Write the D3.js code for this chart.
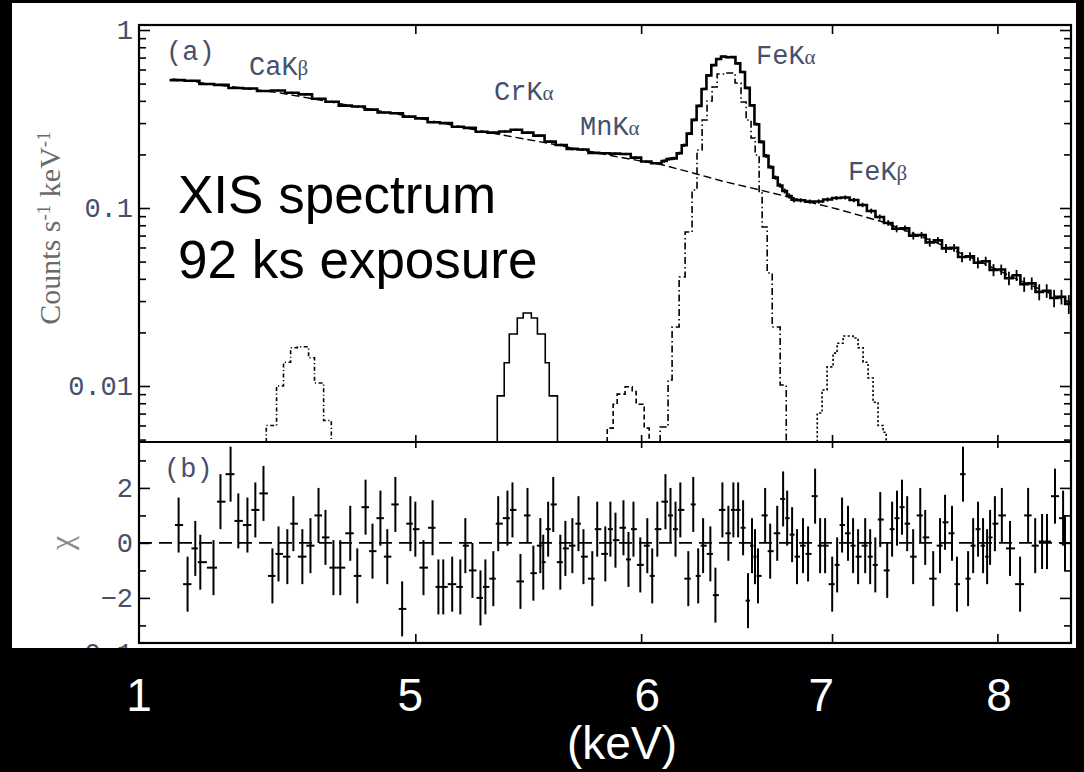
<!DOCTYPE html>
<html><head><meta charset="utf-8">
<script src="https://cdn.jsdelivr.net/npm/d3@7"></script>
<style>html,body{margin:0;padding:0;background:#000;}svg{display:block;}</style>
</head><body>
<svg id="chart" width="1084" height="772"></svg>
<script>
// ---------------- DATA ----------------
// observed XIS spectrum: bin edges (keV), counts s^-1 keV^-1 per bin, 1-sigma errors
const dataEdges = [4.10,4.15,4.20,4.25,4.30,4.35,4.40,4.45,4.50,4.55,
 4.60,4.65,4.70,4.75,4.80,4.85,4.90,4.95,5.00,5.05,
 5.10,5.15,5.20,5.25,5.30,5.35,5.40,5.45,5.50,5.55,
 5.60,5.65,5.70,5.75,5.80,5.85,5.90,5.95,6.00,6.05,
 6.10,6.125,6.15,6.175,6.20,6.225,6.25,6.275,6.30,6.325,
 6.35,6.375,6.40,6.425,6.45,6.475,6.50,6.525,6.55,6.575,
 6.60,6.625,6.65,6.675,6.70,6.725,6.75,6.775,6.80,6.85,
 6.90,6.95,7.00,7.05,7.10,7.15,7.20,7.25,7.30,7.35,
 7.40,7.45,7.50,7.55,7.60,7.65,7.70,7.75,7.80,7.85,
 7.90,7.95,8.00,8.05,8.10,8.15,8.20,8.25,8.30,8.35,
 8.40,8.45,8.50];
const dataFlux = [0.523,0.519,0.497,0.492,0.472,0.469,0.454,0.457,0.444,0.435,
 0.411,0.395,0.376,0.372,0.357,0.344,0.341,0.326,0.319,0.303,
 0.300,0.286,0.282,0.268,0.265,0.269,0.275,0.265,0.255,0.236,
 0.226,0.215,0.213,0.204,0.203,0.202,0.201,0.192,0.1825,0.1785,
 0.1837,0.1885,0.1900,0.2032,0.2253,0.2618,0.3126,0.3746,0.4662,0.5558,
 0.6353,0.6873,0.7098,0.7025,0.7044,0.6494,0.5808,0.4729,0.3771,0.2957,
 0.2354,0.1962,0.1697,0.1482,0.1338,0.1246,0.1168,0.1115,
 0.1105,0.1086,0.1088,0.1116,0.1138,0.1146,0.1109,0.1040,0.0962,0.0890,
 0.0824,0.0765,0.0768,0.0700,0.0704,0.0641,0.0658,0.0593,0.0597,0.0531,
 0.0535,0.0493,0.0502,0.0449,0.0451,0.0403,0.0419,0.0373,0.0377,0.0338,
 0.0343,0.0312,0.0317,0.0289];
const dataErr = [0.007,0.007,0.007,0.007,0.006,0.006,0.006,0.006,0.006,0.006,
 0.005,0.005,0.005,0.005,0.005,0.005,0.005,0.004,0.004,0.004,
 0.004,0.004,0.004,0.004,0.004,0.004,0.004,0.004,0.004,0.004,
 0.004,0.004,0.003,0.003,0.003,0.003,0.003,0.003,0.003,0.003,
 0.004,0.004,0.004,0.004,0.005,0.005,0.006,0.007,0.008,0.009,
 0.010,0.010,0.010,0.010,0.010,0.010,0.009,0.008,0.007,0.006,
 0.005,0.005,0.004,0.004,0.004,0.004,0.004,0.004,
 0.003,0.003,0.003,0.003,0.003,0.003,0.003,0.003,0.003,0.003,
 0.003,0.0035,0.003,0.0035,0.003,0.0035,0.003,0.0035,0.003,0.0035,
 0.003,0.0035,0.003,0.0035,0.003,0.0035,0.003,0.0035,0.003,0.0035,
 0.003,0.0035,0.003,0.0035];

// continuum model (dashed)
const contEnergy = [4.110,4.484,4.992,5.269,5.562,5.866,6.107,6.257,6.405,6.605,6.894,7.029,7.295,7.577,7.908,8.128,8.491];
const contFlux   = [0.5305,0.4428,0.3245,0.2708,0.2318,0.1959,0.1745,0.1573,0.1418,0.1262,0.1067,0.0987,0.0834,0.0661,0.0491,0.0399,0.0293];

// emission-line model components (bin edges in keV, values per bin)
const caKbEdges = [4.433,4.470,4.495,4.521,4.546,4.587,4.609,4.643,4.672];
const caKbFlux  = [0.0060,0.0100,0.0136,0.0164,0.0166,0.0144,0.0104,0.0064];
const crKaEdges = [5.342,5.372,5.394,5.429,5.455,5.491,5.518,5.553,5.571,5.608];
const crKaFlux  = [0.0088,0.0135,0.0196,0.0241,0.0257,0.0241,0.0196,0.0135,0.0088];
const mnKaEdges = [5.838,5.866,5.885,5.923,5.957,5.976,6.015,6.039];
const mnKaFlux  = [0.0058,0.0079,0.0090,0.0099,0.0093,0.0079,0.0058];
const feKaEdges = [6.093,6.132,6.152,6.187,6.217,6.252,6.277,6.303,6.328,6.354,6.380,6.426,6.473,6.504,6.531,6.557,6.579,6.600,6.616,6.643,6.670,6.713,6.746];
const feKaFlux  = [0.00588,0.0108,0.02145,0.0410,0.0733,0.1262,0.2118,0.3122,0.399,0.478,0.566,0.573,0.504,0.394,0.312,0.2474,0.1985,0.1214,0.0782,0.0431,0.02145,0.01013];
const feKbEdges = [6.917,6.944,6.972,7.006,7.029,7.063,7.120,7.149,7.178,7.207,7.236,7.265,7.295,7.313];
const feKbFlux  = [0.00705,0.0095,0.0128,0.0153,0.0174,0.0191,0.0186,0.0164,0.0136,0.0111,0.0081,0.0060,0.0055];

// residuals (chi)
const residEnergy = [4.130,4.160,4.186,4.203,4.248,4.272,4.307,4.334,4.366,4.394,
 4.423,4.455,4.477,4.509,4.531,4.564,4.594,4.624,4.650,4.680,
 4.706,4.744,4.771,4.803,4.830,4.861,4.888,4.920,4.947,4.980,
 5.000,5.033,5.070,5.094,5.114,5.151,5.185,5.206,5.236,5.270,
 5.291,5.325,5.346,5.386,5.408,5.443,5.474,5.500,5.531,5.544,
 5.566,5.589,5.621,5.644,5.676,5.704,5.727,5.768,5.791,5.829,
 5.853,5.877,5.915,5.939,5.963,5.996,6.030,6.054,6.079,6.119,
 6.144,6.169,6.193,6.233,6.258,6.283,6.308,6.345,6.371,6.407,
 6.438,6.464,6.489,6.515,6.541,6.562,6.578,6.594,6.632,6.659,
 6.697,6.729,6.751,6.778,6.805,6.838,6.866,6.905,6.933,6.961,
 7.001,7.029,7.057,7.091,7.120,7.149,7.190,7.219,7.249,7.278,
 7.319,7.348,7.377,7.407,7.438,7.474,7.517,7.547,7.596,7.638,
 7.669,7.712,7.743,7.781,7.813,7.845,7.876,7.908,7.934,7.953,
 7.984,8.029,8.082,8.148,8.201,8.248,8.294,8.327,8.381,8.436,8.449];
const residChi = [0.65,-1.5,-0.2,-0.7,-0.9,1.5,2.5,0.8,0.65,1.2,
 1.8,-1.2,-0.4,-0.5,0.7,-0.5,-0.1,1.0,0.2,-0.9,
 -0.9,0.35,-1.2,1.3,-0.3,0.9,-0.5,1.4,-2.4,0.7,
 0.5,-0.9,0.55,-1.6,-1.6,-1.5,-1.6,-0.1,-1.0,-2.0,
 -1.6,-1.3,0.7,0.9,1.2,-1.4,1.0,-1.1,-0.1,-0.7,
 0.5,1.4,-0.7,-0.2,-0.1,0.7,-0.5,-1.3,0.5,-0.4,
 0.5,0.1,0.55,-0.6,0.5,-0.8,-0.1,-1.2,0.5,1.5,
 1.0,0.5,1.2,-1.3,1.4,-1.2,-0.1,-0.4,-1.9,1.2,
 0.35,1.2,1.2,0.55,-2.1,-0.1,-0.5,-1.2,1.0,-0.3,
 0.35,1.6,0.9,0.3,-0.5,-0.1,-0.4,1.7,-0.1,-0.1,
 -1.5,-0.8,0.65,0.35,-0.1,-0.5,-0.1,-0.5,-0.8,0.85,
 -1.0,0.5,0.9,1.3,0.7,-0.5,1.0,0.2,-1.3,-0.1,
 0.75,0.35,-1.5,2.5,-1.3,-0.1,0.5,-0.1,-0.5,0.2,
 0.7,1.0,-0.2,-1.5,1.0,-0.1,0.05,0.05,1.7,0.9,0.0];
const residErr = 1.0;

// axes
const xTicks = [5,6,7,8];
const yMajorTicks = [0.01,0.1,1];
const yMajorLabels = ["0.01","0.1","1"];
const yMinorTicks = [0.005,0.006,0.007,0.008,0.009,0.02,0.03,0.04,0.05,0.06,0.07,0.08,0.09,0.2,0.3,0.4,0.5,0.6,0.7,0.8,0.9];
const chiMajorTicks = [-2,0,2];
const chiMinorTicks = [-3,-1,1,3];
// overlay energy labels (white, below plot)
const bottomLabels = ["1","5","6","7","8"];
const bottomLabelEnergy = [4.0,4.98,6.03,6.94,8.01];

(function(){
// ---------------- LAYOUT ----------------
const W=1084,H=772;
const L=139,R=1071,T=25,MID=442,B=643;
const svg=d3.select('#chart');
const mono='"Liberation Mono","DejaVu Sans Mono",monospace';
const serif='"Liberation Serif","DejaVu Serif",serif';
const sans='"Liberation Sans",Arial,sans-serif';
const labelColor='#46506c';

svg.append('rect').attr('width',W).attr('height',H).attr('fill','#000');
svg.append('rect').attr('x',12).attr('y',3).attr('width',1064).attr('height',645).attr('fill','#fff');

const defs=svg.append('defs');
defs.append('clipPath').attr('id','clipTop').append('rect').attr('x',L).attr('y',T).attr('width',R-L).attr('height',MID-T);
defs.append('clipPath').attr('id','clipBot').append('rect').attr('x',L).attr('y',MID).attr('width',R-L).attr('height',B-MID);
defs.append('clipPath').attr('id','clipPaper').append('rect').attr('x',12).attr('y',3).attr('width',1064).attr('height',645);

const x=d3.scaleLog().domain([4.0,8.49]).range([L,R]);
const y=d3.scaleLog().domain([0.004846,1.067]).range([MID,T]);
const yc=d3.scaleLinear().domain([-3.64,3.67]).range([B,MID]);
const yMin=y.domain()[0];

const line=d3.line().x(d=>x(d[0])).y(d=>y(d[1]));

// ---------------- TOP PANEL ----------------
const gTop=svg.append('g').attr('clip-path','url(#clipTop)');

function stepPoints(edges,vals){
  const pts=[[edges[0],yMin]];
  vals.forEach((v,i)=>{pts.push([edges[i],v]);pts.push([edges[i+1],v]);});
  pts.push([edges[edges.length-1],yMin]);
  return pts;
}
const comps=[
  {e:caKbEdges,v:caKbFlux,dash:'4,2.5,1.2,2.5'},
  {e:crKaEdges,v:crKaFlux,dash:null},
  {e:mnKaEdges,v:mnKaFlux,dash:'5,3'},
  {e:feKaEdges,v:feKaFlux,dash:'7,3,1.5,3'},
  {e:feKbEdges,v:feKbFlux,dash:'2.2,2.2'}
];
comps.forEach(c=>{
  gTop.append('path').attr('d',line(stepPoints(c.e,c.v)))
    .attr('fill','none').attr('stroke','#000').attr('stroke-width',1.6)
    .attr('stroke-dasharray',c.dash);
});

// continuum
gTop.append('path').attr('d',line(contEnergy.map((e,i)=>[e,contFlux[i]])))
  .attr('fill','none').attr('stroke','#000').attr('stroke-width',1.4).attr('stroke-dasharray','8,4');

// observed data (step histogram + error bars)
const dpts=[];
dataFlux.forEach((v,i)=>{dpts.push([dataEdges[i],v]);dpts.push([dataEdges[i+1],v]);});
gTop.append('path').attr('d',line(dpts)).attr('fill','none').attr('stroke','#000').attr('stroke-width',2.6);
const centre=i=>Math.sqrt(dataEdges[i]*dataEdges[i+1]);
gTop.selectAll('line.err').data(dataFlux).enter().append('line')
  .attr('x1',(d,i)=>x(centre(i))).attr('x2',(d,i)=>x(centre(i)))
  .attr('y1',(d,i)=>y(d-dataErr[i])).attr('y2',(d,i)=>y(d+dataErr[i]))
  .attr('stroke','#000').attr('stroke-width',1.8);

// ---------------- BOTTOM PANEL ----------------
const gBot=svg.append('g').attr('clip-path','url(#clipBot)');
gBot.append('line').attr('x1',L).attr('x2',R).attr('y1',yc(0)).attr('y2',yc(0))
  .attr('stroke','#000').attr('stroke-width',1.6).attr('stroke-dasharray','13,7');
const n=residEnergy.length;
residEnergy.forEach((e,i)=>{
  const lo=i>0?(residEnergy[i-1]+e)/2:e-0.012;
  const hi=i<n-1?(e+residEnergy[i+1])/2:e+0.012;
  gBot.append('line').attr('x1',x(lo)).attr('x2',x(hi)).attr('y1',yc(residChi[i])).attr('y2',yc(residChi[i]))
    .attr('stroke','#000').attr('stroke-width',2);
  gBot.append('line').attr('x1',x(e)).attr('x2',x(e)).attr('y1',yc(residChi[i]-residErr)).attr('y2',yc(residChi[i]+residErr))
    .attr('stroke','#000').attr('stroke-width',2);
});

// ---------------- AXES ----------------
function style(g){
  g.select('.domain').remove();
  g.selectAll('.tick line').attr('stroke','#000').attr('stroke-width',1.6);
  g.selectAll('.tick text').attr('font-family',mono).attr('font-size',27).attr('fill',labelColor);
  return g;
}
style(svg.append('g').attr('transform',`translate(${L},0)`)
  .call(d3.axisLeft(y).tickValues(yMajorTicks).tickSize(-11).tickPadding(6).tickFormat((d,i)=>yMajorLabels[i])));
style(svg.append('g').attr('transform',`translate(${L},0)`)
  .call(d3.axisLeft(y).tickValues(yMinorTicks).tickSize(-7).tickFormat('')));
style(svg.append('g').attr('transform',`translate(${R},0)`)
  .call(d3.axisRight(y).tickValues(yMajorTicks).tickSize(-11).tickFormat('')));
style(svg.append('g').attr('transform',`translate(${R},0)`)
  .call(d3.axisRight(y).tickValues(yMinorTicks).tickSize(-7).tickFormat('')));

style(svg.append('g').attr('transform',`translate(${L},0)`)
  .call(d3.axisLeft(yc).tickValues(chiMajorTicks).tickSize(-11).tickPadding(6).tickFormat(d3.format('d'))));
style(svg.append('g').attr('transform',`translate(${L},0)`)
  .call(d3.axisLeft(yc).tickValues(chiMinorTicks).tickSize(-7).tickFormat('')));
style(svg.append('g').attr('transform',`translate(${R},0)`)
  .call(d3.axisRight(yc).tickValues(chiMajorTicks).tickSize(-11).tickFormat('')));
style(svg.append('g').attr('transform',`translate(${R},0)`)
  .call(d3.axisRight(yc).tickValues(chiMinorTicks).tickSize(-7).tickFormat('')));

style(svg.append('g').attr('transform',`translate(0,${T})`).call(d3.axisTop(x).tickValues(xTicks).tickSize(-9).tickFormat('')));
style(svg.append('g').attr('transform',`translate(0,${MID})`).call(d3.axisTop(x).tickValues(xTicks).tickSize(7).tickFormat('')));
style(svg.append('g').attr('transform',`translate(0,${MID})`).call(d3.axisBottom(x).tickValues(xTicks).tickSize(6).tickFormat('')));
style(svg.append('g').attr('transform',`translate(0,${B})`).call(d3.axisBottom(x).tickValues(xTicks).tickSize(-9).tickFormat('')));

// frames
svg.append('rect').attr('x',L).attr('y',T).attr('width',R-L).attr('height',B-T)
  .attr('fill','none').attr('stroke','#000').attr('stroke-width',2.2);
svg.append('line').attr('x1',L).attr('x2',R).attr('y1',MID).attr('y2',MID).attr('stroke','#000').attr('stroke-width',2.2);

// partially visible label of the panel below
svg.append('text').attr('clip-path','url(#clipPaper)').attr('x',133).attr('y',662).attr('text-anchor','end')
  .attr('font-family',mono).attr('font-size',27).attr('fill',labelColor).text('0.1');

// axis titles
const yt=svg.append('text').attr('transform','translate(60,228) rotate(-90)').attr('text-anchor','middle')
  .attr('font-family',serif).attr('font-size',30).attr('fill','#6a6a6a');
yt.append('tspan').text('Counts s');
yt.append('tspan').attr('baseline-shift','super').attr('font-size',19).text('-1');
yt.append('tspan').text(' keV');
yt.append('tspan').attr('baseline-shift','super').attr('font-size',19).text('-1');

svg.append('text').attr('transform','translate(62,543) rotate(-90)').attr('text-anchor','middle').attr('dy','0.32em')
  .attr('font-family',serif).attr('font-size',32).attr('fill','#8a8a8a').text('χ');

// panel tags and line names
function tag(tx,ty,main,greek){
  const t=svg.append('text').attr('x',tx).attr('y',ty).attr('font-family',mono).attr('font-size',27).attr('fill',labelColor);
  t.append('tspan').text(main);
  if(greek) t.append('tspan').attr('font-family',serif).attr('font-size',21).text(greek);
}
tag(166,60,'(a)');
tag(164,477,'(b)');
tag(249,75,'CaK','β');
tag(494,100,'CrK','α');
tag(580,135,'MnK','α');
tag(756,64,'FeK','α');
tag(848,180,'FeK','β');

// overlay annotation
svg.append('text').attr('x',178).attr('y',213).attr('font-family',sans).attr('font-size',53).attr('fill','#000').text('XIS spectrum');
svg.append('text').attr('x',178).attr('y',278).attr('font-family',sans).attr('font-size',53).attr('fill','#000').text('92 ks exposure');

// white energy labels below
svg.selectAll('text.bl').data(bottomLabels).enter().append('text')
  .attr('x',(d,i)=>x(bottomLabelEnergy[i])).attr('y',711).attr('text-anchor','middle')
  .attr('font-family',sans).attr('font-size',46).attr('fill','#fff').text(d=>d);
svg.append('text').attr('x',622).attr('y',759).attr('text-anchor','middle')
  .attr('font-family',sans).attr('font-size',46).attr('fill','#fff').text('(keV)');
})();
</script>
</body></html>
